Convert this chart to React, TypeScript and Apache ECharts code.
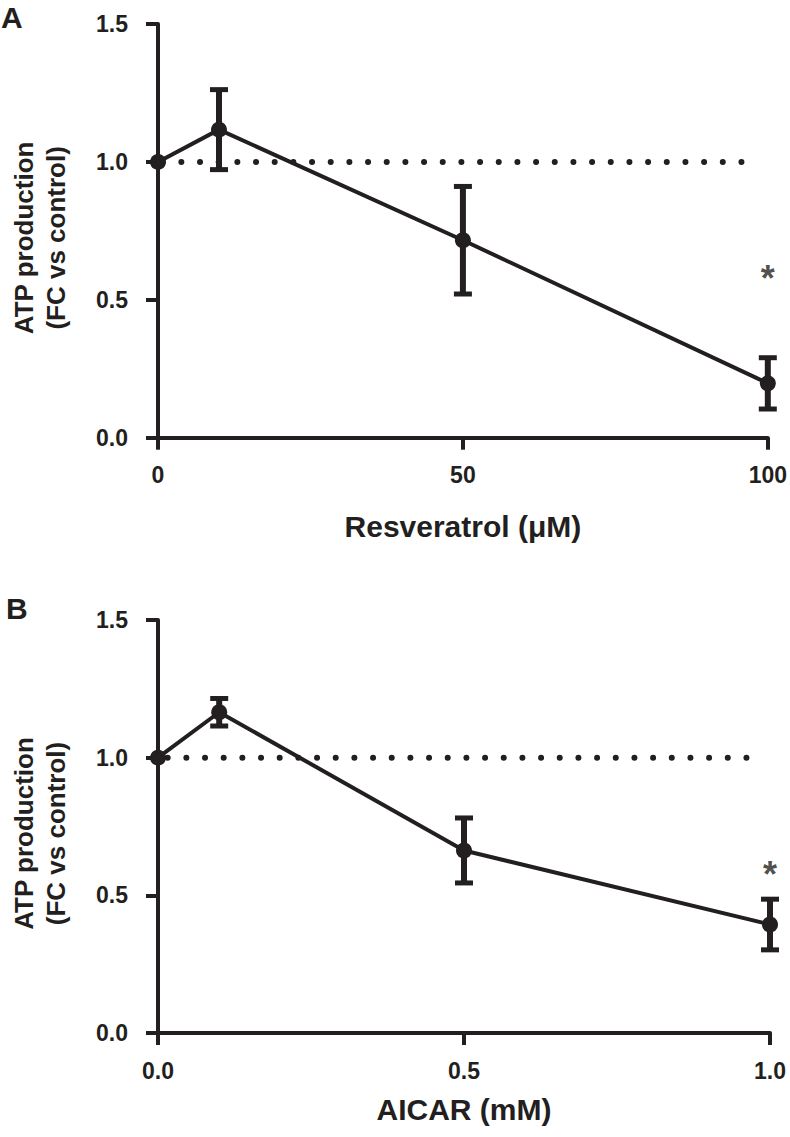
import React, { useEffect, useRef } from "react";
import * as echarts from "echarts";

// ---------- data ----------
const resveratrolDose = [0, 10, 50, 100];
const resveratrolMean = [1.0, 1.117, 0.716, 0.197];
const resveratrolSem = [0, 0.145, 0.195, 0.093];

const aicarDose = [0, 0.1, 0.5, 1.0];
const aicarMean = [1.0, 1.165, 0.663, 0.394];
const aicarSem = [0, 0.05, 0.118, 0.092];

const yTicks = [0, 0.5, 1.0, 1.5];
const resveratrolTicks = [0, 50, 100];
const aicarTicks = [0, 0.5, 1.0];

const controlLevel = 1.0;
const resveratrolRefRange = [0, 97.6];
const aicarRefRange = [0, 0.982];

const resveratrolStar = [100, 0.61];
const aicarStar = [1.0, 0.61];

const yTitle = "ATP production\n(FC vs control)";
const resveratrolTitle = "Resveratrol (\u03bcM)";
const aicarTitle = "AICAR (mM)";
const panelLetters = ["A", "B"];

// ---------- style ----------
const INK = "#231f20";
const FONT = "'Liberation Sans', Arial, sans-serif";

const errRender = (params: any, api: any) => {
  const x = api.value(0);
  const lo = api.value(1);
  const hi = api.value(2);
  const top = api.coord([x, hi]);
  const bot = api.coord([x, lo]);
  const capW = 18;
  const capH = 5;
  const barW = 6;
  return {
    type: "group",
    children: [
      { type: "rect", shape: { x: top[0] - barW / 2, y: top[1], width: barW, height: bot[1] - top[1] }, style: { fill: INK } },
      { type: "rect", shape: { x: top[0] - capW / 2, y: top[1] - capH / 2, width: capW, height: capH }, style: { fill: INK } },
      { type: "rect", shape: { x: bot[0] - capW / 2, y: bot[1] - capH / 2, width: capW, height: capH }, style: { fill: INK } },
    ],
  };
};

function buildPanel(
  idx: number,
  dose: number[],
  mean: number[],
  sem: number[],
  xTicks: number[],
  refRange: number[],
  star: number[],
  title: string,
  xFmt: (v: number) => string,
  titleGap: number,
  dashOffset: number
) {
  const points = dose.map((d, i) => [d, mean[i]]);
  const errs = dose
    .map((d, i) => [d, mean[i] - sem[i], mean[i] + sem[i]])
    .filter((_, i) => sem[i] > 0);
  const xAxis = {
    gridIndex: idx,
    type: "value",
    min: xTicks[0],
    max: xTicks[xTicks.length - 1],
    interval: xTicks[1] - xTicks[0],
    name: title,
    nameLocation: "middle",
    nameGap: titleGap,
    nameTextStyle: { fontFamily: FONT, fontWeight: "bold", fontSize: 30, color: INK },
    axisLine: { show: true, onZero: false, lineStyle: { color: INK, width: 4 } },
    axisTick: { show: true, length: 12, lineStyle: { color: INK, width: 4 } },
    axisLabel: { fontFamily: FONT, fontWeight: "bold", fontSize: 23, color: INK, margin: 26, formatter: xFmt },
    splitLine: { show: false },
  };
  const yAxis = {
    gridIndex: idx,
    type: "value",
    min: yTicks[0],
    max: yTicks[yTicks.length - 1],
    interval: yTicks[1] - yTicks[0],
    name: yTitle,
    nameLocation: "middle",
    nameGap: 86,
    nameTextStyle: {
      fontFamily: FONT,
      fontWeight: "bold",
      fontSize: 26,
      lineHeight: 32,
      color: INK,
      padding: [0, 14, 0, 0],
    },
    axisLine: { show: true, onZero: false, lineStyle: { color: INK, width: 4 } },
    axisTick: { show: true, length: 12, lineStyle: { color: INK, width: 4 } },
    axisLabel: { fontFamily: FONT, fontWeight: "bold", fontSize: 23, color: INK, margin: 30, formatter: (v: number) => v.toFixed(1) },
    splitLine: { show: false },
  };
  const series = [
    {
      type: "line",
      xAxisIndex: idx,
      yAxisIndex: idx,
      data: [
        [refRange[0], controlLevel],
        [refRange[1], controlLevel],
      ],
      symbol: "none",
      silent: true,
      z: 1,
      lineStyle: { color: INK, width: 6, type: [0.01, 18.66], cap: "round", dashOffset },
    },
    {
      type: "custom",
      xAxisIndex: idx,
      yAxisIndex: idx,
      data: errs,
      renderItem: errRender,
      encode: { x: 0, y: [1, 2] },
      z: 2,
    },
    {
      type: "line",
      xAxisIndex: idx,
      yAxisIndex: idx,
      data: points,
      symbol: "circle",
      symbolSize: 16,
      itemStyle: { color: INK },
      lineStyle: { color: INK, width: 4 },
      z: 3,
    },
    {
      type: "scatter",
      xAxisIndex: idx,
      yAxisIndex: idx,
      data: [star],
      symbolSize: 0,
      itemStyle: { color: "transparent" },
      label: {
        show: true,
        position: "inside",
        formatter: "*",
        fontFamily: FONT,
        fontWeight: "bold",
        fontSize: 36,
        color: INK,
        offset: [0, 9],
      },
      z: 4,
    },
  ];
  return { xAxis, yAxis, series };
}

export default function App() {
  const ref = useRef<HTMLDivElement>(null);
  useEffect(() => {
    if (!ref.current) return;
    const chart = echarts.init(ref.current, undefined, { renderer: "svg" });
    const a = buildPanel(0, resveratrolDose, resveratrolMean, resveratrolSem, resveratrolTicks, resveratrolRefRange, resveratrolStar, resveratrolTitle, (v) => String(v), 74, 14.0);
    const b = buildPanel(1, aicarDose, aicarMean, aicarSem, aicarTicks, aicarRefRange, aicarStar, aicarTitle, (v) => v.toFixed(1), 61, 9.4);
    chart.setOption({
      animation: false,
      backgroundColor: "#ffffff",
      grid: [
        { left: 150, top: 24, width: 620, height: 413.7 },
        { left: 150, top: 620, width: 620, height: 413 },
      ],
      xAxis: [a.xAxis, b.xAxis],
      yAxis: [a.yAxis, b.yAxis],
      series: [...a.series, ...b.series],
      graphic: [
        { type: "text", left: 1, top: 2, style: { text: panelLetters[0], font: `bold 30px ${FONT}`, fill: INK } },
        { type: "text", left: 6, top: 593, style: { text: panelLetters[1], font: `bold 30px ${FONT}`, fill: INK } },
      ],
    });
    return () => chart.dispose();
  }, []);
  return <div ref={ref} style={{ position: "fixed", left: 0, top: 0, width: 790, height: 1137 }} />;
}
